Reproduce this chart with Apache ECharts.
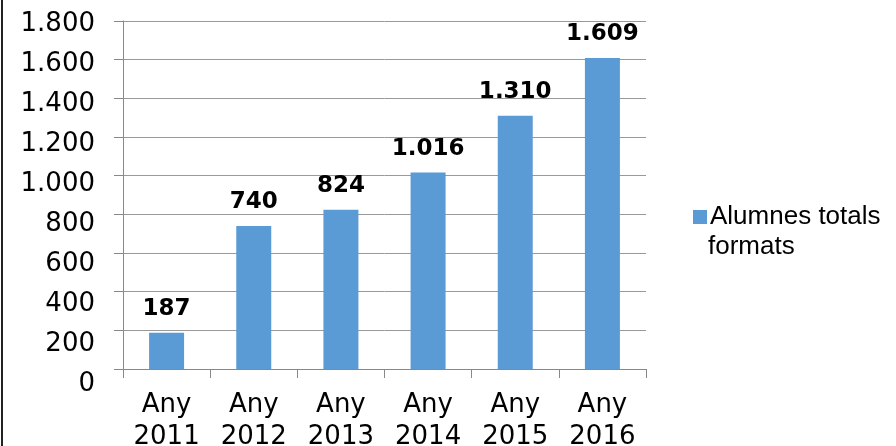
<!DOCTYPE html>
<html><head><meta charset="utf-8">
<script src="https://cdn.jsdelivr.net/npm/echarts@6/dist/echarts.min.js"></script>
<style>html,body{margin:0;padding:0;background:#fff}#c{width:896px;height:446px}</style>
</head><body><div id="c"></div>
<script>
const categories = ['Any\n2011','Any\n2012','Any\n2013','Any\n2014','Any\n2015','Any\n2016'];
const values = [187, 740, 824, 1016, 1310, 1609];
const seriesName = 'Alumnes totals formats';
const yTicks = {min: 0, max: 1800, interval: 200};

function fmt(v){ return String(v).replace(/\B(?=(\d{3})+(?!\d))/g, '.'); }

const chart = echarts.init(document.getElementById('c'), null, {renderer:'canvas'});
chart.setOption({
  animation:false,
  backgroundColor:'#fff',
  grid:[{left:123, right:250, top:21, bottom:77, containLabel:false, outerBoundsMode:'none'},
        {left:123, right:250, top:24, bottom:62, containLabel:false, outerBoundsMode:'none'}],
  xAxis:[{type:'category', data:categories, boundaryGap:true, gridIndex:0,
    axisLine:{lineStyle:{color:'#888', width:1}},
    axisTick:{show:true, length:9, alignWithLabel:false, lineStyle:{color:'#888'}},
    axisLabel:{fontFamily:'DejaVu Sans', fontSize:26, color:'#000', lineHeight:32, margin:20, interval:0, hideOverlap:false}},
    {type:'category', data:categories, gridIndex:1, show:false}],
  yAxis:[{type:'value', min:yTicks.min, max:yTicks.max, interval:yTicks.interval, gridIndex:0,
    axisLine:{show:true, lineStyle:{color:'#888', width:1}},
    axisTick:{show:true, length:9, lineStyle:{color:'#888'}},
    splitLine:{lineStyle:{color:'#999', width:1}},
    axisLabel:{show:false}},
    {type:'value', min:yTicks.min, max:yTicks.max, interval:yTicks.interval, gridIndex:1,
    axisLine:{show:false}, axisTick:{show:false}, splitLine:{show:false},
    axisLabel:{fontFamily:'DejaVu Sans', fontSize:26, color:'#000', margin:28, formatter:fmt}}],
  legend:{show:true, left:688, top:199, itemWidth:14, itemHeight:14, itemGap:0,
    data:[{name:seriesName, icon:'rect'}],
    formatter:()=> 'Alumnes totals',
    textStyle:{fontFamily:'Liberation Sans', fontSize:26, color:'#000', padding:[0,0,0,-2]}},
  graphic:[
    {type:'text', left:708, top:234, style:{text:'formats', font:'26px "Liberation Sans"', fill:'#000'}},
    {type:'rect', shape:{x:1, y:0, width:2, height:446}, style:{fill:'#222'}}
  ],
  series:[{name:seriesName, type:'bar', data:values, barWidth:35, xAxisIndex:0, yAxisIndex:0,
    itemStyle:{color:'#5B9BD5'},
    label:{show:true, position:'top', distance:12, formatter:p=>fmt(p.value),
      fontFamily:'DejaVu Sans', fontWeight:'bold', fontSize:23, color:'#000'}}]
});
</script></body></html>
